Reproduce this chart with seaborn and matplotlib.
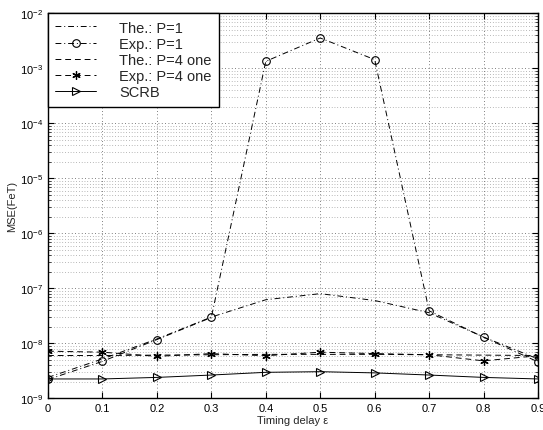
import numpy as np
import pandas as pd
import matplotlib
matplotlib.use("Agg")
import matplotlib.pyplot as plt
import seaborn as sns
from matplotlib.ticker import LogLocator, NullFormatter

# Timing delay values
delay = [0.0, 0.1, 0.2, 0.3, 0.4, 0.5, 0.6, 0.7, 0.8, 0.9]

# MSE curves
the_p1 = [2.4e-9, 5.2e-9, 1.2e-8, 3.0e-8, 6.2e-8, 8.0e-8, 6.0e-8, 3.6e-8, 1.3e-8, 5.2e-9]
exp_p1 = [2.2e-9, 4.7e-9, 1.17e-8, 2.95e-8, 1.34e-3, 3.56e-3, 1.44e-3, 3.9e-8, 1.29e-8, 4.6e-9]
the_p4 = [6.0e-9, 6.0e-9, 6.1e-9, 6.2e-9, 6.3e-9, 6.3e-9, 6.3e-9, 6.2e-9, 6.1e-9, 6.0e-9]
exp_p4 = [7.2e-9, 6.9e-9, 5.8e-9, 6.5e-9, 5.95e-9, 6.9e-9, 6.5e-9, 6.2e-9, 4.8e-9, 5.95e-9]
scrb = [2.25e-9, 2.25e-9, 2.4e-9, 2.65e-9, 2.97e-9, 3.05e-9, 2.9e-9, 2.65e-9, 2.4e-9, 2.25e-9]

labels = ["The.: P=1", "Exp.: P=1", "The.: P=4 one", "Exp.: P=4 one", "SCRB"]

sns.set_theme(style="white")
plt.rcParams["font.family"] = ["Liberation Sans", "DejaVu Sans"]
plt.rcParams["mathtext.fontset"] = "custom"
plt.rcParams["mathtext.rm"] = "Liberation Sans"
plt.rcParams["mathtext.it"] = "Liberation Sans:italic"

fig = plt.figure(figsize=(5.43, 4.31), dpi=100)
ax = fig.add_axes([0.0884, 0.0735, 0.9024, 0.8933])

df = pd.DataFrame({"delay": delay})
styles = [
    (the_p1, dict(linestyle=(0, (6, 3, 1, 3)), marker=None)),
    (exp_p1, dict(linestyle=(0, (6, 3, 1, 3)), marker="o", markersize=5.5,
                  markerfacecolor="none", markeredgecolor="black", markeredgewidth=0.8)),
    (the_p4, dict(linestyle=(0, (6, 4)), marker=None)),
    (exp_p4, dict(linestyle=(0, (6, 4)), marker=(6, 2, 0), markersize=6,
                  markerfacecolor="black", markeredgecolor="black", markeredgewidth=0.9)),
    (scrb, dict(linestyle="-", marker=">", markersize=6,
                markerfacecolor="none", markeredgecolor="black", markeredgewidth=0.8)),
]
for (vals, kw), lab in zip(styles, labels):
    df["mse"] = vals
    sns.lineplot(data=df, x="delay", y="mse", ax=ax, color="black",
                 linewidth=0.7, label=lab, **kw)

ax.set_yscale("log")
ax.set_xlim(0, 0.9)
ax.set_ylim(1e-9, 1e-2)
ax.set_xticks(delay)
ax.set_xticklabels(["0", "0.1", "0.2", "0.3", "0.4", "0.5", "0.6", "0.7", "0.8", "0.9"])
ax.yaxis.set_major_locator(LogLocator(base=10, numticks=20))
ax.yaxis.set_minor_locator(LogLocator(base=10, subs=np.arange(2, 10), numticks=20))
ax.yaxis.set_minor_formatter(NullFormatter())

ax.grid(True, which="major", axis="both", linestyle=(0, (1, 3)), color="#555555", linewidth=0.6)
ax.grid(True, which="minor", axis="y", linestyle=(0, (1, 3)), color="#777777", linewidth=0.5)

ax.tick_params(axis="both", which="both", direction="in", top=True, right=True,
               labelsize=8, colors="black")
ax.tick_params(axis="both", which="major", length=4, width=0.8, bottom=True, left=True)
ax.tick_params(axis="y", which="minor", length=2, width=0.5, left=True)
for s in ax.spines.values():
    s.set_color("black")
    s.set_linewidth(1.0)

ax.set_xlabel("Timing delay ε", fontsize=8, labelpad=1)
ax.set_ylabel("MSE(FeT)", fontsize=8, labelpad=2)

leg = ax.legend(loc="upper left", fontsize=10.5, frameon=True, fancybox=False,
                edgecolor="black", framealpha=1, borderaxespad=0,
                handlelength=2.8, handletextpad=1.6, labelspacing=0.15,
                borderpad=0.5)
leg.get_frame().set_linewidth(1.0)

fig.savefig("out.png", dpi=100)
